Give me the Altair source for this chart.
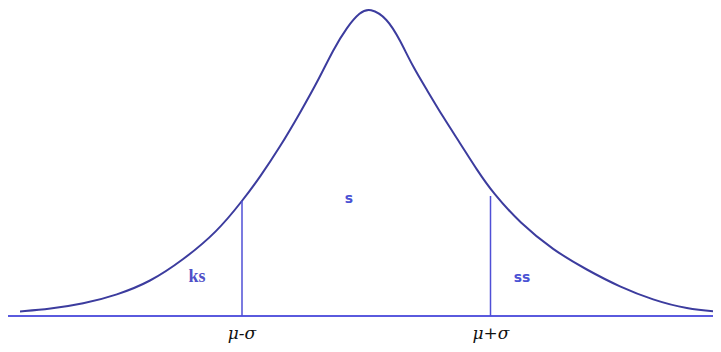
import altair as alt
import pandas as pd

# Bell curve (x: horizontal position, y: height above baseline)
curve_x = [12, 42, 75, 109, 142, 175, 209, 235, 252, 272, 292, 312, 325, 339, 352, 362,
           379, 392, 405, 419, 435, 452, 469, 485, 512, 545, 579, 612, 645, 679, 712]
curve_y = [4.5, 7, 12, 21, 34, 56, 84, 116, 139, 169, 203, 239, 266, 289, 304, 308,
           298, 276, 249, 226, 199, 173, 146, 123, 93, 66, 46, 29, 16, 7, 4]

# Baseline and the two sigma lines
base_x = [0, 713]
sigma_x = [234, 482.5]
sigma_top = [115, 120]

# Region labels
region_labels = ["ks", "s", "ss"]
region_x = [189, 341, 514]
region_y = [39, 117, 38]

# Labels under the baseline
tick_labels = ["μ-σ", "μ+σ"]
tick_x = [234, 483]
tick_y = [-23, -23]

curve_df = pd.DataFrame({"x": curve_x, "y": curve_y})
sigma_df = pd.DataFrame({"x": sigma_x, "top": sigma_top, "bottom": [0, 0]})
base_df = pd.DataFrame({"x": [base_x[0]], "x2": [base_x[1]], "y": [0]})
reg_df = pd.DataFrame({"label": region_labels, "x": region_x, "y": region_y})
tick_df = pd.DataFrame({"label": tick_labels, "x": tick_x, "y": tick_y})

xs = alt.Scale(domain=[0, 705], nice=False, zero=False)
ys = alt.Scale(domain=[-28, 308], nice=False, zero=False)

X = lambda f: alt.X(f, type="quantitative", scale=xs, axis=None)
Y = lambda f: alt.Y(f, type="quantitative", scale=ys, axis=None)

baseline = alt.Chart(base_df).mark_rule(color="#5a5ade", strokeWidth=2, clip=False).encode(
    x=X("x"), x2="x2:Q", y=Y("y"),
)

curve = alt.Chart(curve_df).mark_line(
    color="#3c3c9e", strokeWidth=2, interpolate="basis", clip=False
).encode(x=X("x"), y=Y("y"))

sigmas = alt.Chart(sigma_df).mark_rule(color="#4f4fd6", strokeWidth=1.5).encode(
    x=X("x"), y=Y("bottom"), y2="top:Q",
)

ks = alt.Chart(reg_df[reg_df.label == "ks"]).mark_text(
    font="Liberation Serif", fontSize=18, fontWeight="bold", color="#5050c8",
    baseline="middle", align="center"
).encode(x=X("x"), y=Y("y"), text="label:N")

others = alt.Chart(reg_df[reg_df.label != "ks"]).mark_text(
    font="DejaVu Sans", fontSize=14, fontWeight="bold", color="#4a52d4",
    baseline="middle", align="center"
).encode(x=X("x"), y=Y("y"), text="label:N")

ticks = alt.Chart(tick_df).mark_text(
    font="DejaVu Serif", fontSize=17, fontStyle="italic", color="#111111",
    baseline="alphabetic", align="center"
).encode(x=X("x"), y=Y("y"), text="label:N")

chart = alt.layer(baseline, curve, sigmas, ks, others, ticks).properties(
    width=705, height=336, padding=0, autosize=alt.AutoSizeParams(type="none"),
    background="white"
).configure_view(stroke=None)

chart.save("out.html", embed_options={"renderer": "svg", "actions": False})
